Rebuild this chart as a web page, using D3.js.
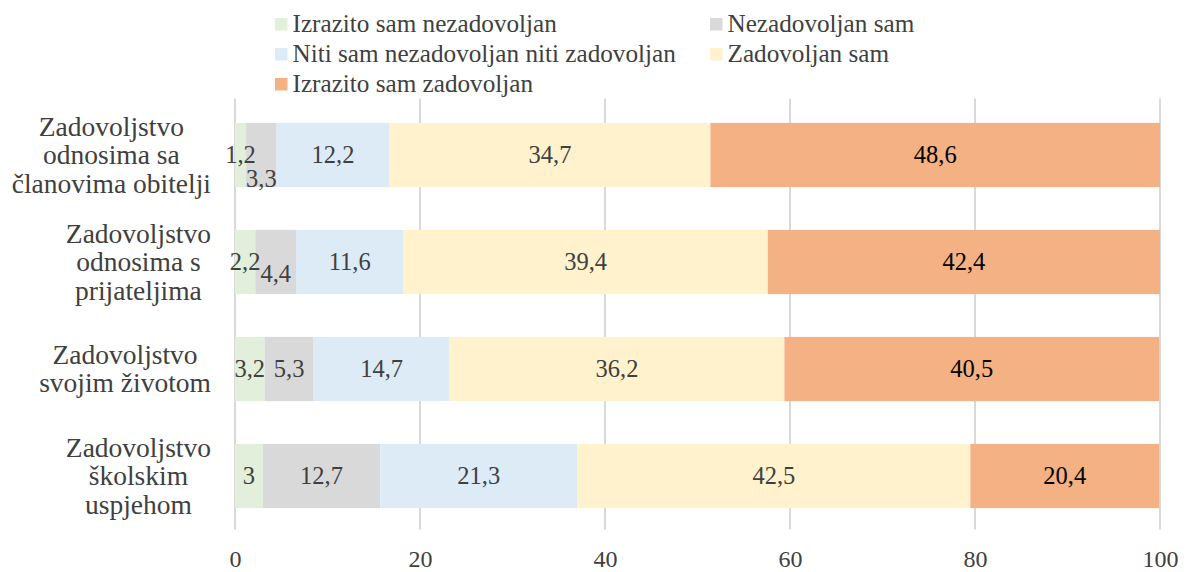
<!DOCTYPE html>
<html>
<head>
<meta charset="utf-8">
<script src="https://cdn.jsdelivr.net/npm/d3@7"></script>
<style>
  body { margin: 0; background: #fff; }
  svg text { font-family: "Liberation Serif", "Times New Roman", Times, "DejaVu Serif", serif; }
</style>
</head>
<body>
<div id="chart"></div>
<script>
// category labels, split into lines as in the original
const categories = [
  ['Zadovoljstvo', 'odnosima sa', 'članovima obitelji'],
  ['Zadovoljstvo', 'odnosima s', 'prijateljima'],
  ['Zadovoljstvo', 'svojim životom'],
  ['Zadovoljstvo', 'školskim', 'uspjehom']
];

const seriesNames = [
  'Izrazito sam nezadovoljan',
  'Nezadovoljan sam',
  'Niti sam nezadovoljan niti zadovoljan',
  'Zadovoljan sam',
  'Izrazito sam zadovoljan'
];

const izrazitoNezadovoljan = [1.2, 2.2, 3.2, 3];
const nezadovoljan = [3.3, 4.4, 5.3, 12.7];
const nitiNiti = [12.2, 11.6, 14.7, 21.3];
const zadovoljan = [34.7, 39.4, 36.2, 42.5];
const izrazitoZadovoljan = [48.6, 42.4, 40.5, 20.4];

const xTicks = [0, 20, 40, 60, 80, 100];

const colors = ['#e2efda', '#d9d9d9', '#ddebf7', '#fff2cc', '#f4b183'];
const labelColors = ['#404040', '#404040', '#404040', '#404040', '#000000'];

const width = 1188, height = 572;
const margin = { top: 101.5, left: 235, right: 28, bottom: 42.5 };

const svg = d3.select('#chart').append('svg')
  .attr('width', width)
  .attr('height', height);

const rows = categories.map((c, i) => ({
  key: i,
  s0: izrazitoNezadovoljan[i],
  s1: nezadovoljan[i],
  s2: nitiNiti[i],
  s3: zadovoljan[i],
  s4: izrazitoZadovoljan[i]
}));
const keys = ['s0', 's1', 's2', 's3', 's4'];
const stacked = d3.stack().keys(keys)(rows);

const x = d3.scaleLinear()
  .domain([0, 100])
  .range([margin.left, width - margin.right]);

const y = d3.scaleBand()
  .domain(d3.range(categories.length))
  .range([margin.top, height - margin.bottom])
  .paddingInner(0.4)
  .paddingOuter(0.2);

// gridlines
svg.append('g')
  .selectAll('line')
  .data(xTicks)
  .enter().append('line')
  .attr('x1', d => x(d))
  .attr('x2', d => x(d))
  .attr('y1', margin.top - 3)
  .attr('y2', height - margin.bottom)
  .attr('stroke', '#d9d9d9')
  .attr('stroke-width', 2);

// x axis labels
const xAxis = svg.append('g')
  .attr('transform', `translate(0, ${height - 5})`)
  .call(d3.axisBottom(x).tickValues(xTicks).tickSize(0).tickPadding(0));
xAxis.attr('font-family', null).attr('font-size', null);
xAxis.select('.domain').remove();
xAxis.selectAll('text')
  .attr('dy', 0)
  .attr('y', 0)
  .attr('fill', '#404040')
  .style('font-size', '24px');

// bars
const layer = svg.selectAll('g.layer')
  .data(stacked)
  .enter().append('g')
  .attr('class', 'layer')
  .attr('fill', (d, i) => colors[i]);

layer.selectAll('rect')
  .data(d => d)
  .enter().append('rect')
  .attr('x', d => x(d[0]))
  .attr('y', d => y(d.data.key))
  .attr('width', d => x(d[1]) - x(d[0]))
  .attr('height', y.bandwidth());

// data labels, nudged down when they would collide with the previous one
const labelG = svg.append('g')
  .style('font-size', '24.5px')
  .attr('text-anchor', 'middle');

rows.forEach((r, i) => {
  let prevRight = -Infinity;
  keys.forEach((k, j) => {
    const seg = stacked[j][i];
    const cx = (x(seg[0]) + x(seg[1])) / 2;
    const base = y(i) + y.bandwidth() / 2 + 8;
    const t = labelG.append('text')
      .attr('x', cx)
      .attr('y', base)
      .attr('fill', labelColors[j])
      .text(String(r[k]).replace('.', ','));
    const w = t.node().getComputedTextLength();
    const overlap = prevRight - (cx - w / 2);
    if (overlap > -1) {
      t.attr('y', base + (overlap > 6 ? 24 : 12));
    }
    prevRight = cx + w / 2;
  });
});

// category labels
const catG = svg.append('g')
  .style('font-size', '27.5px')
  .attr('fill', '#404040')
  .attr('text-anchor', 'middle');

const lineH = 28.5;
categories.forEach((lines, i) => {
  const g = catG.append('text');
  const widths = lines.map(l => {
    const t = catG.append('text').text(l);
    const w = t.node().getComputedTextLength();
    t.remove();
    return w;
  });
  const cx = 211 - d3.max(widths) / 2;
  const cy = y(i) + y.bandwidth() / 2;
  const firstBase = cy - (lines.length - 1) * lineH / 2 + 9;
  lines.forEach((l, j) => {
    g.append('tspan')
      .attr('x', cx)
      .attr('y', firstBase + j * lineH)
      .text(l);
  });
});

// legend
const legendItems = [
  { name: seriesNames[0], color: colors[0], col: 0, row: 0 },
  { name: seriesNames[1], color: colors[1], col: 1, row: 0 },
  { name: seriesNames[2], color: colors[2], col: 0, row: 1 },
  { name: seriesNames[3], color: colors[3], col: 1, row: 1 },
  { name: seriesNames[4], color: colors[4], col: 0, row: 2 }
];
const legendColX = [275, 710];
const legend = svg.append('g')
  .style('font-size', '25.2px');

const item = legend.selectAll('g')
  .data(legendItems)
  .enter().append('g')
  .attr('transform', d => `translate(${legendColX[d.col]}, ${31.5 + d.row * 30})`);

item.append('rect')
  .attr('x', 0)
  .attr('y', -13.5)
  .attr('width', 12.5)
  .attr('height', 12.5)
  .attr('fill', d => d.color);

item.append('text')
  .attr('x', 17.5)
  .attr('y', 0)
  .attr('fill', '#404040')
  .text(d => d.name);
</script>
</body>
</html>
